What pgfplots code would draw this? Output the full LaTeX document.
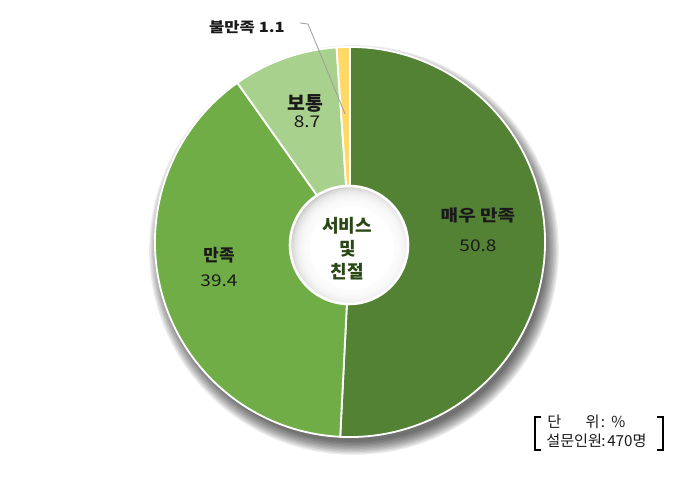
\documentclass[border=0pt]{standalone}
\usepackage{fontspec}
\setmainfont{Noto Sans CJK KR}
\newfontfamily\wide[FakeStretch=1.18]{Noto Sans CJK KR}
\usepackage{pgfplots}
\pgfplotsset{compat=1.18}
\usepackage{pgfplotstable}

\definecolor{dkgreen}{HTML}{548235}
\definecolor{mdgreen}{HTML}{70AD47}
\definecolor{ltgreen}{HTML}{A9D18E}
\definecolor{yel}{HTML}{FFD966}
\definecolor{ctext}{HTML}{2A4716}
\definecolor{ltext}{HTML}{1A1A1A}
\colorlet{slice0}{dkgreen}
\colorlet{slice1}{mdgreen}
\colorlet{slice2}{ltgreen}
\colorlet{slice3}{yel}

% 매우 만족, 만족, 보통, 불만족 (%)
\pgfplotstableread{
value
50.8
39.4
8.7
1.1
}\pietable

% slice angles, clockwise from the top
\def\cur{90}%
\pgfplotsforeachungrouped \i in {0,1,2,3}{%
  \pgfplotstablegetelem{\i}{value}\of\pietable
  \pgfmathsetmacro\nxt{\cur-3.6*\pgfplotsretval}%
  \expandafter\xdef\csname sa\i\endcsname{\cur}%
  \expandafter\xdef\csname ea\i\endcsname{\nxt}%
  \xdef\cur{\nxt}%
}

\begin{document}
\begin{tikzpicture}
\begin{axis}[
    x=0.025cm, y=0.025cm,
    xmin=0, xmax=700, ymin=0, ymax=486,
    hide axis, clip=false, disabledatascaling,
]
\path (axis cs:0,0) rectangle (axis cs:700,486);
% soft shadow, built from faint layers
\pgfplotsinvokeforeach{1,...,10}{
  \fill[black, opacity=0.08] (axis cs:354,236) circle[radius={4.76cm+#1*0.036cm}];
}
% slices
\pgfplotsinvokeforeach{0,1,2,3}{
  \fill[slice#1, draw=white, line width=1.3pt] (axis cs:350,244)
    -- ++(\csname sa#1\endcsname:4.875cm)
    arc[start angle=\csname sa#1\endcsname, end angle=\csname ea#1\endcsname, radius=4.875cm]
    -- cycle;
}
% hole
\begin{scope}
\clip (axis cs:349,241) circle[radius=1.475cm];
\fill[gray!40] (axis cs:349,241) circle[radius=1.5cm];
\fill[white] (axis cs:352,238) circle[radius=1.05cm];
\pgfplotsinvokeforeach{0,...,8}{
  \fill[white, opacity=0.3] (axis cs:352,238) circle[radius={1.1cm+#1*0.05cm}];
}
\end{scope}
\draw[white, line width=1.8pt] (axis cs:349,241) circle[radius=1.475cm];

\node[anchor=base, text=ctext, font=\fontsize{12.8}{14}\selectfont\bfseries, inner sep=0] at (axis cs:347,253) {서비스};
\node[anchor=base, text=ctext, font=\fontsize{12.8}{14}\selectfont\bfseries, inner sep=0] at (axis cs:348,230) {및};
\node[anchor=base, text=ctext, font=\fontsize{12.8}{14}\selectfont\bfseries, inner sep=0] at (axis cs:347,207) {친절};

% slice labels
\node[anchor=base, text=ltext, font=\wide\fontsize{11.5}{13}\selectfont\bfseries, inner sep=0] at (axis cs:478,264) {매우 만족};
\node[anchor=base, text=ltext, font=\wide\fontsize{11.5}{13}\selectfont, inner sep=0] at (axis cs:478,234) {50.8};
\node[anchor=base, text=ltext, font=\fontsize{12}{13}\selectfont\bfseries, inner sep=0] at (axis cs:219,224) {만족};
\node[anchor=base, text=ltext, font=\wide\fontsize{11.5}{13}\selectfont, inner sep=0] at (axis cs:219,199) {39.4};
\node[anchor=base, text=ltext, font=\fontsize{13.8}{15}\selectfont\bfseries, inner sep=0] at (axis cs:305,375) {보통};
\node[anchor=base, text=ltext, font=\wide\fontsize{11.5}{13}\selectfont, inner sep=0] at (axis cs:307,358) {8.7};
\node[anchor=base, text=ltext, font=\wide\fontsize{10}{11}\selectfont\bfseries, inner sep=0] at (axis cs:247,453) {불만족 1.1};
\draw[gray!75, line width=0.6pt] (axis cs:300,463) -- (axis cs:308,462) -- (axis cs:345,372);

% unit box
\begin{scope}[every node/.style={inner sep=0, text=ltext, font=\fontsize{10.8}{11}\selectfont}]
\node[anchor=base west] at (axis cs:547,58) {단};
\node[anchor=base east] at (axis cs:600,58) {위};
\node[anchor=base] at (axis cs:603,58) {:};
\node[anchor=base west] at (axis cs:611,58) {\%};
\node[anchor=base west] at (axis cs:546,39) {설문인원};
\node[anchor=base] at (axis cs:603.5,39) {:};
\node[anchor=base west] at (axis cs:607,39) {470명};
\end{scope}
\draw[black, line width=1.6pt] (axis cs:541,69) -- (axis cs:535,69) -- (axis cs:535,36) -- (axis cs:541,36);
\draw[black, line width=1.6pt] (axis cs:657,69) -- (axis cs:663,69) -- (axis cs:663,36) -- (axis cs:657,36);
\end{axis}
\end{tikzpicture}
\end{document}
